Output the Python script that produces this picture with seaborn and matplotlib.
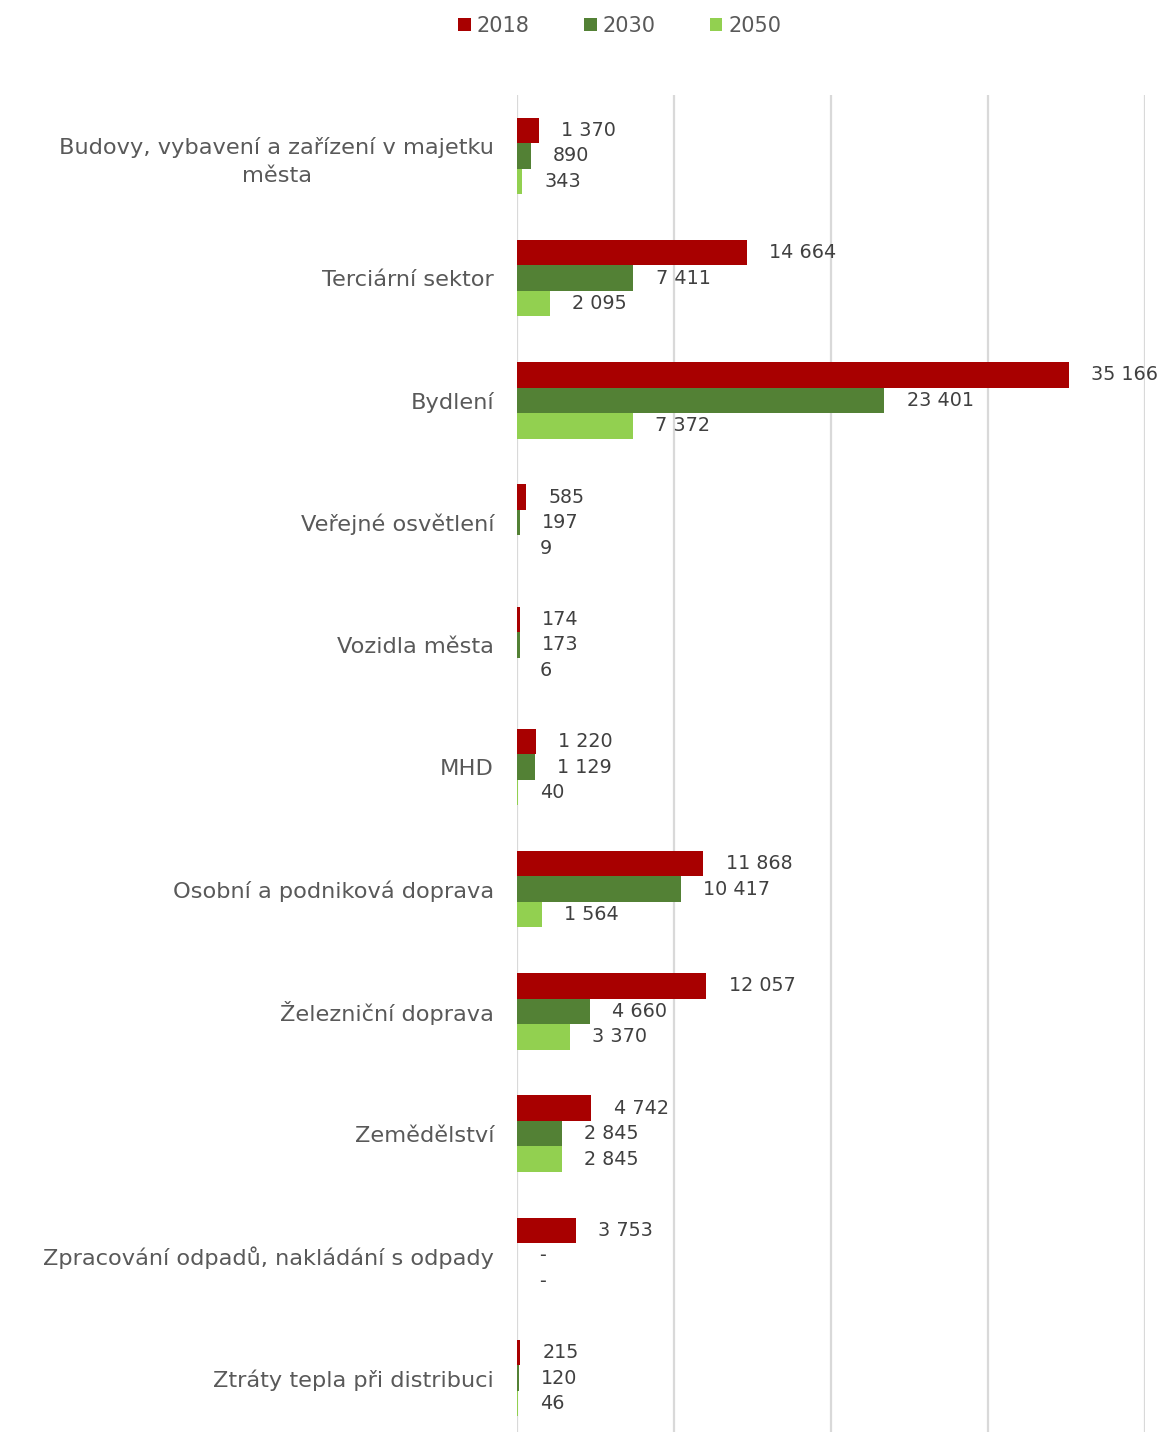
import matplotlib
matplotlib.use("Agg")
import matplotlib.pyplot as plt
import seaborn as sns
import pandas as pd
from matplotlib.patches import Patch

categories = [
    "Budovy, vybavení a zařízení v majetku\nměsta",
    "Terciární sektor",
    "Bydlení",
    "Veřejné osvětlení",
    "Vozidla města",
    "MHD",
    "Osobní a podniková doprava",
    "Železniční doprava",
    "Zemědělství",
    "Zpracování odpadů, nakládání s odpady",
    "Ztráty tepla při distribuci",
]
years = ["2018", "2030", "2050"]
values_2018 = [1370, 14664, 35166, 585, 174, 1220, 11868, 12057, 4742, 3753, 215]
values_2030 = [890, 7411, 23401, 197, 173, 1129, 10417, 4660, 2845, 0, 120]
values_2050 = [343, 2095, 7372, 9, 6, 40, 1564, 3370, 2845, 0, 46]
colors = ["#A80000", "#538135", "#92D050"]

rows = []
for year, vals in zip(years, [values_2018, values_2030, values_2050]):
    for cat, v in zip(categories, vals):
        rows.append({"kategorie": cat, "rok": year, "hodnota": v})
df = pd.DataFrame(rows)

sns.set_theme(style="white")
plt.rcParams["font.family"] = ["DejaVu Sans"]

fig = plt.figure(figsize=(11.61, 14.32), dpi=100)
ax = fig.add_axes([0.4453, -0.00496, 0.5409, 0.93869])

sns.barplot(data=df, y="kategorie", x="hodnota", hue="rok", order=categories,
            hue_order=years, palette=colors, saturation=1, width=0.626,
            orient="h", linewidth=0, ax=ax, legend=False)

ax.set_xlim(0, 40000)
ax.set_xticks([0, 10000, 20000, 30000, 40000])
ax.set_xticklabels([])
ax.tick_params(axis="x", length=0)
ax.grid(axis="x", color="#D9D9D9", linewidth=1.6)
ax.set_axisbelow(True)
for s in ax.spines.values():
    s.set_visible(False)
ax.set_xlabel("")
ax.set_ylabel("")

ax.tick_params(axis="y", length=0, pad=16.5, labelsize=16.2, labelcolor="#595959")
for lbl in ax.get_yticklabels():
    lbl.set_multialignment("center")
    lbl.set_linespacing(1.45)


def fmt(v):
    if v == 0:
        return "-"
    return f"{v:,}".replace(",", " ")


for container, vals in zip(ax.containers, [values_2018, values_2030, values_2050]):
    ax.bar_label(container, labels=[fmt(v) for v in vals], padding=16,
                 fontsize=13.8, color="#404040")

handles = [Patch(facecolor=c, edgecolor="none", label=y) for c, y in zip(colors, years)]
fig.legend(handles=handles, loc="center", bbox_to_anchor=(0.534, 0.982), ncol=3,
           frameon=False, fontsize=15, labelcolor="#595959",
           handlelength=0.6, handleheight=0.6, handletextpad=0.3,
           columnspacing=2.6)

fig.savefig("out.png", dpi=100)
